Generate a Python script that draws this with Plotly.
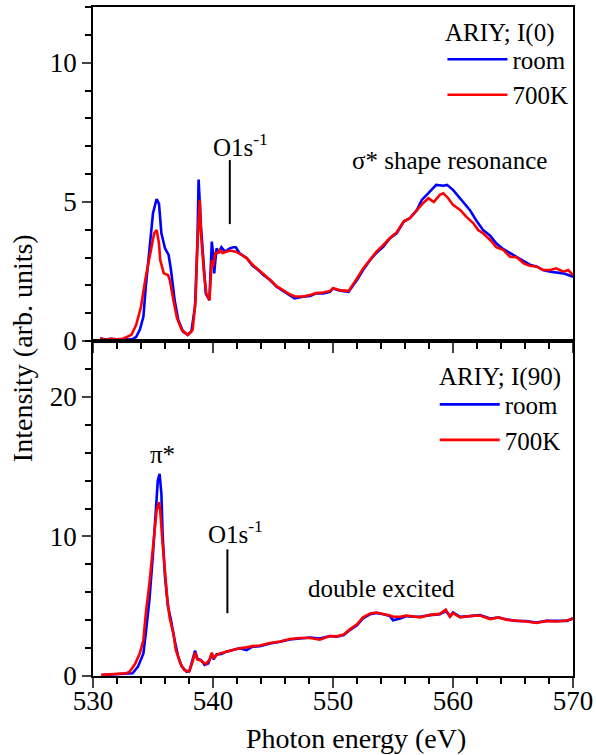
import plotly.graph_objects as go

# ---------------- data ----------------
energy_top_room = [
    530.6, 531.0, 531.5, 532.0, 532.5, 533.0, 533.3, 533.6, 533.9, 534.2,
    534.4, 534.7, 535.0, 535.3, 535.5, 535.7, 536.0, 536.3, 536.5, 536.8,
    537.1, 537.5, 537.9, 538.2, 538.5, 538.7, 538.8, 539.0, 539.25, 539.4,
    539.7, 539.8, 539.9, 540.0, 540.1, 540.2, 540.3, 540.5, 540.7, 541.0,
    541.4, 541.7, 541.9, 542.2, 542.8, 543.3, 543.6, 544.2, 544.75, 545.3,
    545.9, 546.4, 546.8, 547.5, 548.1, 548.6, 549.2, 549.75, 550.0, 550.6,
    551.3, 551.7, 552.0, 552.5, 553.1, 553.6, 554.2, 554.75, 555.3, 555.9,
    556.4, 557.0, 557.4, 557.95, 558.6, 559.2, 559.5, 560.0, 560.45, 560.9,
    561.4, 562.0, 562.5, 563.1, 563.6, 564.2, 564.75, 565.3, 565.9, 566.4,
    567.0, 567.5, 568.1, 568.6, 569.2, 569.6, 570.0]
intensity_top_room = [
    0.1, 0.05, 0.08, 0.05, 0.07, 0.05, 0.07, 0.15, 0.4, 0.87,
    1.95, 3.27, 4.59, 5.1, 4.93, 3.87, 3.33, 3.09, 2.55, 1.47,
    0.76, 0.34, 0.22, 0.34, 1.23, 3.5, 5.8, 4.1, 2.55, 1.7,
    1.47, 2.55, 3.57, 3.16, 2.43, 2.91, 3.33, 3.16, 3.37, 3.21,
    3.33, 3.37, 3.37, 3.16, 2.98, 2.7, 2.61, 2.37, 2.19, 1.95,
    1.77, 1.65, 1.53, 1.59, 1.62, 1.71, 1.71, 1.77, 1.89, 1.81,
    1.77, 2.01, 2.19, 2.55, 2.91, 3.16, 3.39, 3.69, 3.87, 4.29,
    4.41, 4.71, 5.07, 5.31, 5.61, 5.58, 5.61, 5.43, 5.19, 4.95,
    4.71, 4.29, 3.99, 3.78, 3.51, 3.30, 3.16, 3.03, 2.85, 2.74,
    2.67, 2.55, 2.49, 2.46, 2.43, 2.37, 2.31]

energy_top_700k = [
    530.6, 531.0, 531.5, 532.0, 532.5, 532.8, 533.2, 533.6, 534.0, 534.4,
    534.8, 535.1, 535.3, 535.5, 535.6, 535.9, 536.25, 536.4, 536.7, 537.0,
    537.4, 537.9, 538.3, 538.55, 538.7, 538.9, 539.0, 539.25, 539.45, 539.7,
    539.9, 540.0, 540.2, 540.4, 540.55, 540.8, 541.4, 541.9, 542.4, 542.8,
    543.3, 543.6, 544.2, 544.75, 545.3, 545.9, 546.4, 546.8, 547.5, 548.1,
    548.6, 549.2, 549.75, 550.0, 550.6, 551.3, 551.7, 552.0, 552.5, 553.1,
    553.6, 554.2, 554.75, 555.3, 555.9, 556.4, 557.0, 557.5, 557.95, 558.4,
    558.9, 559.2, 559.6, 560.0, 560.6, 561.1, 561.7, 562.1, 562.5, 563.1,
    563.6, 564.2, 564.75, 565.3, 565.9, 566.4, 567.0, 567.5, 568.1, 568.6,
    569.2, 569.6, 570.0]
intensity_top_700k = [
    0.1, 0.04, 0.08, 0.06, 0.08, 0.13, 0.22, 0.58, 1.23, 2.31,
    3.27, 3.87, 3.99, 3.51, 2.91, 2.43, 2.37, 2.19, 1.47, 0.82,
    0.4, 0.22, 0.4, 1.47, 3.5, 5.07, 3.87, 2.43, 1.7, 1.47,
    2.91, 2.67, 3.16, 3.16, 3.27, 3.16, 3.25, 3.21, 3.09, 2.98,
    2.74, 2.63, 2.4, 2.2, 1.97, 1.8, 1.68, 1.6, 1.6, 1.65,
    1.72, 1.74, 1.8, 1.9, 1.82, 1.8, 2.05, 2.25, 2.6, 2.95,
    3.2, 3.45, 3.7, 3.9, 4.3, 4.41, 4.71, 4.95, 5.13, 4.99,
    5.25, 5.31, 5.13, 4.89, 4.71, 4.47, 4.23, 3.99, 3.87, 3.63,
    3.37, 3.27, 3.03, 3.01, 2.79, 2.70, 2.67, 2.55, 2.55, 2.61,
    2.49, 2.55, 2.37]

energy_bot_room = [
    530.7, 531.7, 532.8, 533.3, 533.75, 534.2, 534.4, 534.7, 535.0, 535.2,
    535.4, 535.55, 535.7, 535.8, 536.0, 536.25, 536.5, 536.8, 537.1, 537.4,
    537.8, 538.05, 538.3, 538.5, 538.7, 539.0, 539.3, 539.6, 539.9, 540.05,
    540.3, 540.7, 541.1, 541.7, 542.2, 542.8, 543.3, 543.9, 544.75, 545.6,
    546.4, 547.25, 548.1, 548.9, 549.75, 550.3, 550.9, 551.4, 552.0, 552.5,
    553.1, 553.6, 554.2, 554.75, 555.0, 555.6, 556.1, 556.7, 557.25, 558.1,
    558.9, 559.4, 559.75, 560.0, 560.6, 561.4, 562.25, 563.1, 563.8, 564.5,
    565.3, 566.1, 566.95, 567.8, 568.6, 569.5, 569.9, 570.0]
intensity_bot_room = [
    0.07, 0.14, 0.19, 0.2, 0.67, 1.62, 3.05, 5.43, 8.76, 11.86,
    14.0, 14.48, 13.05, 10.19, 7.1, 4.95, 4.0, 2.57, 1.38, 0.67,
    0.31, 0.38, 1.14, 1.81, 1.24, 1.14, 0.79, 0.9, 1.57, 1.19,
    1.55, 1.57, 1.74, 1.86, 1.98, 1.85, 2.10, 2.14, 2.33, 2.45,
    2.62, 2.69, 2.76, 2.69, 2.86, 2.81, 2.93, 3.29, 3.64, 4.12,
    4.43, 4.52, 4.43, 4.29, 4.0, 4.12, 4.29, 4.24, 4.24, 4.36,
    4.43, 4.65, 4.29, 4.55, 4.24, 4.29, 4.36, 4.12, 4.19, 4.05,
    3.95, 3.93, 3.83, 3.95, 3.93, 3.95, 4.1, 4.05]

energy_bot_700k = [
    530.7, 531.7, 532.8, 533.05, 533.5, 533.9, 534.2, 534.4, 534.7, 535.0,
    535.3, 535.5, 535.6, 535.8, 536.0, 536.2, 536.4, 536.7, 536.9, 537.3,
    537.6, 538.0, 538.3, 538.5, 538.7, 539.0, 539.4, 539.7, 539.9, 540.05,
    540.3, 540.55, 541.1, 541.7, 542.2, 542.8, 543.3, 543.9, 544.75, 545.6,
    546.4, 547.25, 548.1, 548.9, 549.75, 550.3, 550.9, 551.4, 552.0, 552.5,
    553.1, 553.6, 554.2, 554.75, 555.0, 555.6, 556.1, 556.7, 557.25, 558.1,
    558.9, 559.4, 559.75, 560.0, 560.6, 561.4, 562.25, 563.1, 563.8, 564.5,
    565.3, 566.1, 566.95, 567.8, 568.6, 569.5, 569.9, 570.0]
intensity_bot_700k = [
    0.08, 0.15, 0.2, 0.31, 0.86, 1.62, 2.57, 4.48, 6.62, 9.24,
    11.86, 12.45, 11.86, 9.48, 7.1, 5.43, 4.12, 3.05, 1.86, 0.86,
    0.43, 0.31, 1.02, 1.67, 1.19, 1.1, 0.86, 1.14, 1.67, 1.26,
    1.5, 1.62, 1.74, 1.9, 1.98, 2.05, 2.14, 2.18, 2.36, 2.47,
    2.65, 2.72, 2.72, 2.6, 2.86, 2.84, 2.98, 3.34, 3.7, 4.2,
    4.48, 4.55, 4.45, 4.33, 4.24, 4.24, 4.33, 4.27, 4.2, 4.38,
    4.45, 4.75, 4.25, 4.5, 4.2, 4.3, 4.33, 4.08, 4.2, 4.02,
    3.97, 3.9, 3.8, 3.95, 3.9, 3.97, 4.08, 4.15]

series_names = ["room", "700K"]
panel_titles = ["ARIY; I(0)", "ARIY; I(90)"]
x_tick_vals = [530, 540, 550, 560, 570]
top_y_ticks = [0, 5, 10]
bot_y_ticks = [0, 10, 20]
top_y_range = [0, 12]
bot_y_range = [0, 24]
o1s_edge_top = 541.4
o1s_edge_bot = 541.2

# ---------------- figure ----------------
FONT = "Liberation Serif"
BLUE = "#0000ff"
RED = "#ff0000"
LW = 2.6

fig = go.Figure()
fig.add_trace(go.Scatter(x=energy_top_room, y=intensity_top_room, mode="lines",
                         name=series_names[0], line=dict(color=BLUE, width=LW),
                         xaxis="x", yaxis="y", legend="legend"))
fig.add_trace(go.Scatter(x=energy_top_700k, y=intensity_top_700k, mode="lines",
                         name=series_names[1], line=dict(color=RED, width=LW),
                         xaxis="x", yaxis="y", legend="legend"))
fig.add_trace(go.Scatter(x=energy_bot_room, y=intensity_bot_room, mode="lines",
                         name=series_names[0], line=dict(color=BLUE, width=LW),
                         xaxis="x2", yaxis="y2", legend="legend2"))
fig.add_trace(go.Scatter(x=energy_bot_700k, y=intensity_bot_700k, mode="lines",
                         name=series_names[1], line=dict(color=RED, width=LW),
                         xaxis="x2", yaxis="y2", legend="legend2"))

split = (676 - 341) / 669.0
TW = 1.5

common_x = dict(range=[530, 570], tickvals=x_tick_vals, ticks="outside", ticklen=10,
                tickwidth=TW, showline=True, linecolor="black", linewidth=1.8,
                showgrid=False, zeroline=False, automargin=False,
                ticklabelstandoff=-10,
                minor=dict(dtick=2, ticks="outside", ticklen=6, tickwidth=TW, tickcolor="black"),
                tickfont=dict(family=FONT, size=27, color="black"))
common_y = dict(ticks="outside", ticklen=9, tickwidth=TW, showline=True,
                linecolor="black", linewidth=1.8, showgrid=False, zeroline=False,
                mirror=True, automargin=False,
                tickfont=dict(family=FONT, size=27, color="black"))
# inside ticks mirrored on the right / top edges
inside_common = dict(ticks="inside", ticklen=8, tickwidth=TW, showticklabels=False,
                     showline=False, showgrid=False, zeroline=False, automargin=False)

legend_common = dict(xanchor="left", yanchor="top", bgcolor="rgba(0,0,0,0)",
                     font=dict(family=FONT, size=25, color="black"),
                     itemwidth=60, tracegroupgap=0)

fig.update_layout(
    width=596, height=755,
    margin=dict(l=93, r=23, t=7, b=79),
    paper_bgcolor="white", plot_bgcolor="white",
    font=dict(family=FONT, color="black"),
    xaxis=dict(common_x, anchor="y", showticklabels=False, mirror=True),
    yaxis=dict(common_y, domain=[split, 1], range=top_y_range, tickvals=top_y_ticks,
               minor=dict(dtick=1, ticks="outside", ticklen=6, tickwidth=TW, tickcolor="black")),
    xaxis2=dict(common_x, anchor="y2", mirror=True),
    yaxis2=dict(common_y, domain=[0, split], range=bot_y_range, tickvals=bot_y_ticks,
                minor=dict(dtick=2, ticks="outside", ticklen=6, tickwidth=TW, tickcolor="black")),
    yaxis3=dict(inside_common, overlaying="y", side="right", anchor="x", range=top_y_range,
                tickvals=top_y_ticks,
                minor=dict(dtick=1, ticks="inside", ticklen=5, tickwidth=TW, tickcolor="black")),
    yaxis4=dict(inside_common, overlaying="y2", side="right", anchor="x2", range=bot_y_range,
                tickvals=bot_y_ticks,
                minor=dict(dtick=2, ticks="inside", ticklen=5, tickwidth=TW, tickcolor="black")),
    xaxis3=dict(inside_common, overlaying="x", side="top", anchor="y", range=[530, 570],
                tickvals=x_tick_vals,
                minor=dict(dtick=2, ticks="inside", ticklen=5, tickwidth=TW, tickcolor="black")),
    legend=dict(legend_common, x=0.728, y=0.956),
    legend2=dict(legend_common, x=0.712, y=0.440),
    showlegend=True,
)

ann_font = dict(family=FONT, size=25, color="black")
# legend headings
fig.add_annotation(text=panel_titles[0], x=0.729, y=0.961, xref="paper", yref="paper",
                   xanchor="left", yanchor="middle", showarrow=False, font=ann_font)
fig.add_annotation(text=panel_titles[1], x=0.7167, y=0.447, xref="paper", yref="paper",
                   xanchor="left", yanchor="middle", showarrow=False, font=ann_font)

fig.add_annotation(text="O1s<sup>-1</sup>", x=542.25, y=7.05, xref="x", yref="y",
                   showarrow=False, font=ann_font)
fig.add_annotation(text="σ* shape resonance", x=559.7, y=6.5, xref="x", yref="y",
                   showarrow=False, font=ann_font)
fig.add_annotation(text="π*", x=535.75, y=15.9, xref="x2", yref="y2",
                   showarrow=False, font=ann_font)
fig.add_annotation(text="O1s<sup>-1</sup>", x=541.9, y=10.35, xref="x2", yref="y2",
                   showarrow=False, font=ann_font)
fig.add_annotation(text="double excited", x=554.0, y=6.3, xref="x2", yref="y2",
                   showarrow=False, font=ann_font)

fig.add_shape(type="line", x0=o1s_edge_top, x1=o1s_edge_top, y0=4.2, y1=6.5,
              xref="x", yref="y", line=dict(color="black", width=2))
fig.add_shape(type="line", x0=o1s_edge_bot, x1=o1s_edge_bot, y0=4.5, y1=9.07,
              xref="x2", yref="y2", line=dict(color="black", width=2))

fig.add_annotation(text="Intensity (arb. units)", x=-0.148, y=0.49, xref="paper", yref="paper",
                   textangle=-90, showarrow=False, xanchor="center", yanchor="middle",
                   font=dict(family=FONT, size=28, color="black"))
fig.add_annotation(text="Photon energy (eV)", x=0.548, y=-0.093, xref="paper", yref="paper",
                   showarrow=False, xanchor="center", yanchor="middle",
                   font=dict(family=FONT, size=28, color="black"))

fig.write_html("out.html", post_script="document.body.style.margin='0px';",
               config={"displayModeBar": False})
